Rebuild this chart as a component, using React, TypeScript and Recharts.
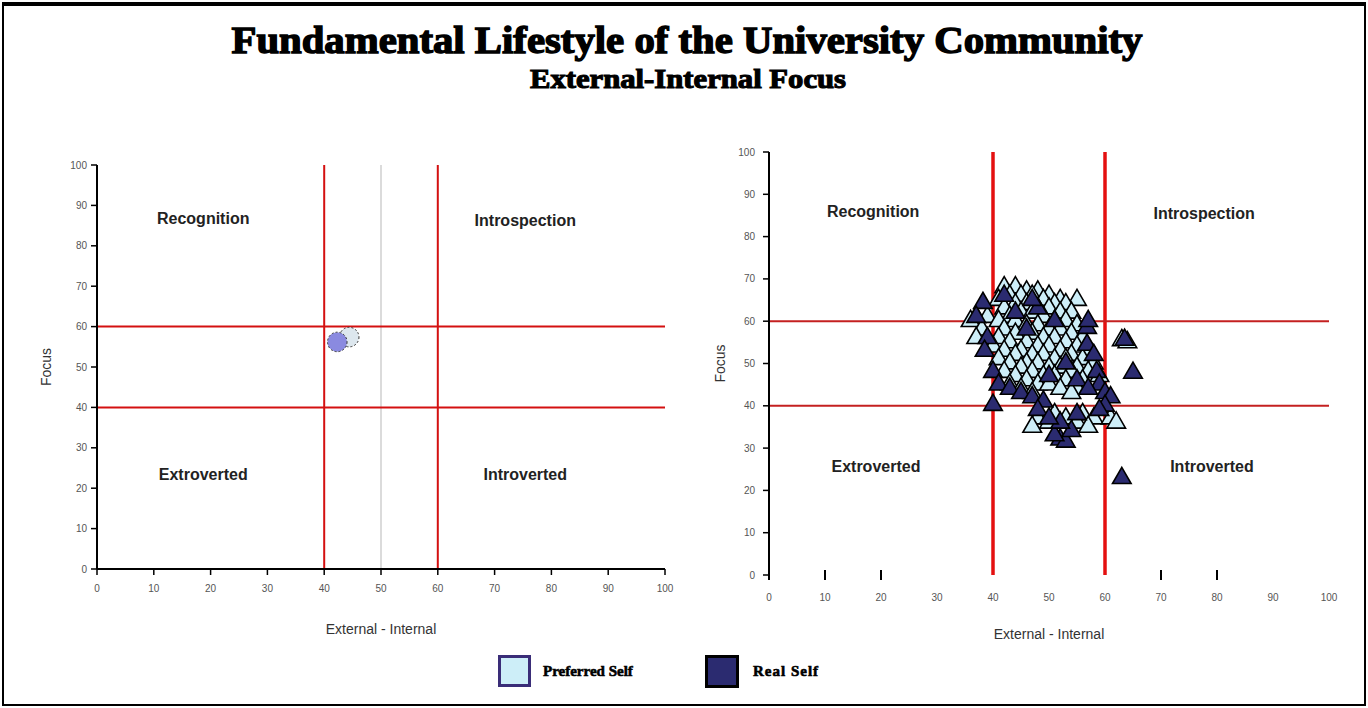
import {
  ScatterChart,
  Scatter,
  XAxis,
  YAxis,
  ReferenceLine,
  ReferenceDot,
  Symbols,
} from 'recharts';

// axis ticks shared by both panels
const TICKS = [0, 10, 20, 30, 40, 50, 60, 70, 80, 90, 100];
const RIGHT_MARKED_TICKS = [0, 10, 20, 70, 80];

// quadrant boundaries
const VERTICAL_CUTS = [40, 60];
const HORIZONTAL_CUTS = [40, 60];

// quadrant captions: [label, x, y]
const LEFT_CAPTIONS: [string, number, number][] = [
  ['Recognition', 18.7, 86.9],
  ['Introspection', 75.4, 86.4],
  ['Extroverted', 18.7, 23.5],
  ['Introverted', 75.4, 23.5],
];
const RIGHT_CAPTIONS: [string, number, number][] = [
  ['Recognition', 18.6, 86],
  ['Introspection', 77.7, 85.6],
  ['Extroverted', 19.1, 25.8],
  ['Introverted', 79.1, 25.8],
];

// left panel: group means
const LEFT_PREFERRED: [number, number][] = [[44.4, 57.4]];
const LEFT_REAL: [number, number][] = [[42.3, 56.2]];

// right panel: individual respondents
const RIGHT_PREFERRED: [number, number][] = [
  [42, 68], [44, 68], [46, 67], [48, 67], [43, 66], [45, 66], [47, 66], [50, 66],
  [41, 65], [49, 65], [52, 65], [55, 65], [44, 64], [46, 64], [51, 64], [53, 64],
  [42, 63], [48, 63], [50, 63], [45, 62], [47, 62], [52, 62], [54, 62],
  [37, 61], [39, 61], [43, 61], [49, 61], [36, 60], [41, 60], [44, 60], [51, 60], [53, 60],
  [46, 59], [48, 59], [55, 59], [38, 58], [42, 58], [50, 58], [52, 58],
  [44, 57], [47, 57], [54, 57], [37, 56], [41, 56], [49, 56], [51, 56], [56, 56],
  [43, 55], [46, 55], [53, 55], [63, 55.5], [40, 54], [48, 54], [50, 54], [55, 54], [64, 55],
  [42, 53], [45, 53], [52, 53], [57, 53], [44, 52], [47, 52], [49, 52], [54, 52],
  [41, 51], [51, 51], [53, 51], [56, 51], [43, 50], [46, 50], [48, 50], [58, 50],
  [45, 49], [50, 49], [52, 49], [55, 49], [42, 48], [47, 48], [54, 48], [57, 48],
  [44, 47], [49, 47], [51, 47], [59, 47], [46, 46], [53, 46], [56, 46],
  [43, 45], [48, 45], [50, 45], [45, 44], [52, 44], [55, 44], [47, 43], [54, 43],
  [51, 38], [56, 38], [48, 37], [53, 37], [58, 37], [61, 37],
  [50, 36], [55, 36], [62, 36], [47, 35], [57, 35],
];
const RIGHT_REAL: [number, number][] = [
  [38.2, 64.3], [37, 61], [39, 56], [38.5, 53], [40, 48], [40, 40.2], [41, 45],
  [43, 44], [45, 43], [47, 42], [49, 41], [48, 39], [52, 32], [53, 31.5], [51, 33],
  [54, 34], [52, 36], [55, 38], [50, 37], [56.8, 58.4], [56.8, 54.4], [58, 52],
  [57, 60], [58.5, 48], [59, 45], [60, 43], [61, 42], [60, 40], [59, 39],
  [63.5, 55.6], [65, 47.8], [63, 22.9], [44, 62], [48, 63], [51, 60], [46, 58],
  [53, 50], [55, 46], [57, 44], [50, 47], [42, 66], [47, 65],
];

const toPoints = (list: [number, number][]) => list.map(([x, y]) => ({ x, y }));

const COLORS = {
  cut: '#d41010',
  preferredFill: '#cdeef8',
  realFill: '#2b2b70',
  leftPreferred: '#dde7ee',
  leftReal: '#8a8ae0',
  tick: '#555',
  label: '#333',
};

const tickStyle = { fontSize: 10, fill: COLORS.tick, fontFamily: 'Liberation Sans, Arial, sans-serif' };
const labelStyle = { fontSize: 14, fill: COLORS.label, fontFamily: 'Liberation Sans, Arial, sans-serif' };
const captionStyle = {
  fontSize: 16,
  fontWeight: 700,
  fill: '#222',
  fontFamily: 'Liberation Sans, Arial, sans-serif',
};

// marker renderers: position comes from the scatter's own scales
const marker = (type: 'circle' | 'triangle', size: number, fill: string, dash?: string) =>
  (props: any) => (
    <Symbols
      cx={props.cx}
      cy={props.cy}
      type={type}
      size={size}
      fill={fill}
      stroke={type === 'circle' ? '#333' : '#000'}
      strokeWidth={type === 'circle' ? 1 : 1.6}
      strokeDasharray={dash}
    />
  );

const RightXTick = (props: any) => {
  const { x, y, payload } = props;
  return (
    <g>
      {RIGHT_MARKED_TICKS.includes(payload.value) && (
        <line x1={x} x2={x} y1={y - 5} y2={y + 5} stroke="#000" strokeWidth={2} />
      )}
      <text x={x} y={y + 23} textAnchor="middle" dominantBaseline="middle" {...tickStyle}>
        {payload.value}
      </text>
    </g>
  );
};

const captions = (list: [string, number, number][]) =>
  list.map(([text, x, y]) => (
    <ReferenceDot
      key={text}
      x={x}
      y={y}
      r={0}
      fill="none"
      stroke="none"
      label={{ value: text, position: 'center', style: captionStyle }}
    />
  ));

const LeftPanel = () => (
  <ScatterChart width={690} height={510} margin={{ top: 25, right: 25, bottom: 16, left: 37 }}>
    <XAxis
      type="number"
      dataKey="x"
      domain={[0, 100]}
      ticks={TICKS}
      height={65}
      tick={tickStyle}
      tickSize={6}
      tickMargin={10}
      axisLine={{ stroke: '#000', strokeWidth: 2 }}
      tickLine={{ stroke: '#000', strokeWidth: 1.5 }}
      label={{ value: 'External - Internal', position: 'insideBottom', offset: 0, style: labelStyle }}
    />
    <YAxis
      type="number"
      dataKey="y"
      domain={[0, 100]}
      ticks={TICKS}
      width={60}
      tick={tickStyle}
      tickSize={6}
      tickMargin={4}
      axisLine={{ stroke: '#000', strokeWidth: 2 }}
      tickLine={{ stroke: '#000', strokeWidth: 1.5 }}
      label={{ value: 'Focus', angle: -90, position: 'insideLeft', offset: 9, style: { ...labelStyle, textAnchor: 'middle' } }}
    />
    <ReferenceLine x={50} stroke="#cfcfcf" strokeWidth={1.5} />
    {VERTICAL_CUTS.map((v) => (
      <ReferenceLine key={`v${v}`} x={v} stroke={COLORS.cut} strokeWidth={2} />
    ))}
    {HORIZONTAL_CUTS.map((v) => (
      <ReferenceLine key={`h${v}`} y={v} stroke={COLORS.cut} strokeWidth={2} />
    ))}
    {captions(LEFT_CAPTIONS)}
    <Scatter
      name="Preferred Self"
      data={toPoints(LEFT_PREFERRED)}
      shape={marker('circle', 300, COLORS.leftPreferred, '2 2')}
      isAnimationActive={false}
    />
    <Scatter
      name="Real Self"
      data={toPoints(LEFT_REAL)}
      shape={marker('circle', 300, COLORS.leftReal, '2 2')}
      isAnimationActive={false}
    />
  </ScatterChart>
);

const RightPanel = () => (
  <ScatterChart width={678} height={520} margin={{ top: 22, right: 39, bottom: 11, left: 19 }}>
    <XAxis
      type="number"
      dataKey="x"
      domain={[0, 100]}
      ticks={TICKS}
      height={64}
      tick={<RightXTick />}
      tickSize={0}
      tickMargin={0}
      axisLine={false}
      tickLine={false}
      label={{ value: 'External - Internal', position: 'insideBottom', offset: 0, style: labelStyle }}
    />
    <YAxis
      type="number"
      dataKey="y"
      domain={[0, 100]}
      ticks={TICKS}
      width={60}
      tick={tickStyle}
      tickSize={6}
      tickMargin={8}
      axisLine={{ stroke: '#000', strokeWidth: 2 }}
      tickLine={{ stroke: '#000', strokeWidth: 1.5 }}
      label={{ value: 'Focus', angle: -90, position: 'insideLeft', offset: 11, style: { ...labelStyle, textAnchor: 'middle' } }}
    />
    {VERTICAL_CUTS.map((v) => (
      <ReferenceLine key={`v${v}`} x={v} stroke="#e41010" strokeWidth={3.5} />
    ))}
    {HORIZONTAL_CUTS.map((v) => (
      <ReferenceLine key={`h${v}`} y={v} stroke="#c42020" strokeWidth={2} />
    ))}
    {captions(RIGHT_CAPTIONS)}
    <Scatter
      name="Preferred Self"
      data={toPoints(RIGHT_PREFERRED)}
      shape={marker('triangle', 150, COLORS.preferredFill)}
      isAnimationActive={false}
    />
    <Scatter
      name="Real Self"
      data={toPoints(RIGHT_REAL)}
      shape={marker('triangle', 150, COLORS.realFill)}
      isAnimationActive={false}
    />
  </ScatterChart>
);

const legendText = {
  fontFamily: 'Liberation Serif, Times New Roman, serif',
  fontWeight: 700,
  fontSize: 15,
  color: '#000',
  WebkitTextStroke: '0.6px #000',
};

export default function App() {
  return (
    <div
      style={{
        position: 'fixed',
        left: 0,
        top: 0,
        width: 1368,
        height: 708,
        background: '#fff',
        overflow: 'hidden',
      }}
    >
      <div
        style={{
          position: 'absolute',
          left: 2,
          top: 2,
          width: 1364,
          height: 704,
          boxSizing: 'border-box',
          border: '2px solid #000',
          borderTop: '4px solid #000',
        }}
      />
      <svg width={1368} height={100} style={{ position: 'absolute', left: 0, top: 0 }}>
        <text
          x={687}
          y={53}
          textAnchor="middle"
          textLength={911}
          lengthAdjust="spacingAndGlyphs"
          fontFamily="Liberation Serif, Times New Roman, serif"
          fontWeight={700}
          fontSize={38}
          fill="#000"
          stroke="#000"
          strokeWidth={1.4}
        >
          Fundamental Lifestyle of the University Community
        </text>
        <text
          x={688}
          y={88}
          textAnchor="middle"
          textLength={316}
          lengthAdjust="spacingAndGlyphs"
          fontFamily="Liberation Serif, Times New Roman, serif"
          fontWeight={700}
          fontSize={27}
          fill="#000"
          stroke="#000"
          strokeWidth={1.1}
        >
          External-Internal Focus
        </text>
      </svg>
      <div style={{ position: 'absolute', left: 0, top: 140 }}>
        <LeftPanel />
      </div>
      <div style={{ position: 'absolute', left: 690, top: 130 }}>
        <RightPanel />
      </div>
      <div style={{ position: 'absolute', left: 498, top: 655, display: 'flex', alignItems: 'center' }}>
        <div
          style={{
            width: 27,
            height: 26,
            background: COLORS.preferredFill,
            border: '3px solid #3a2d78',
          }}
        />
        <span style={{ ...legendText, marginLeft: 12 }}>Preferred Self</span>
      </div>
      <div style={{ position: 'absolute', left: 705, top: 655, display: 'flex', alignItems: 'center' }}>
        <div
          style={{
            width: 28,
            height: 27,
            background: COLORS.realFill,
            border: '3px solid #000',
          }}
        />
        <span style={{ ...legendText, marginLeft: 14, letterSpacing: 1 }}>Real Self</span>
      </div>
    </div>
  );
}
